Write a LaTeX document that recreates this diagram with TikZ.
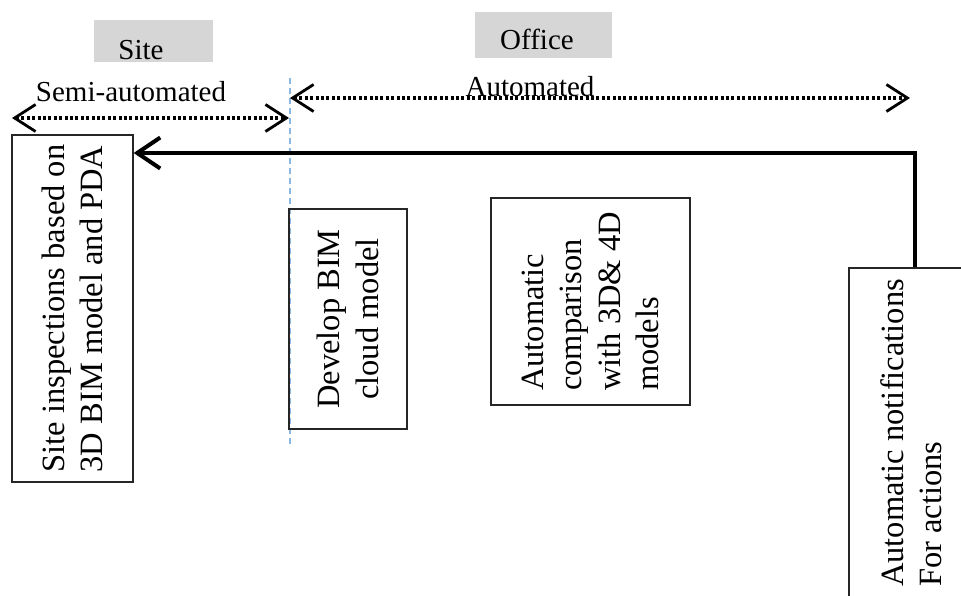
\documentclass[tikz,border=0pt]{standalone}
\usepackage{fontspec}
\setmainfont{Liberation Serif}
\usetikzlibrary{arrows.meta}
\definecolor{dividerblue}{RGB}{140,182,228}
\begin{document}
\begin{tikzpicture}[x=1pt,y=-1pt,
  boxtext/.style={font=\fontsize{32.5}{38.5}\selectfont},
  labeltext/.style={font=\fontsize{29}{34}\selectfont, inner sep=0pt},
  stepbox/.style={draw=black!85, line width=1.3pt, inner sep=0pt, rotate=90, boxtext},
  zonetag/.style={fill=black!16, inner sep=0pt},
  spanarrow/.style={line width=3.2pt, dash pattern=on 3pt off 2.4pt,
    {Straight Barb[length=21pt, width=27pt, line width=2.8pt]}-{Straight Barb[length=21pt, width=27pt, line width=2.8pt]}},
  feedback/.style={line width=4.5pt, -{Straight Barb[length=23pt, width=31pt, line width=4pt]}},
  divider/.style={draw=dividerblue, line width=1.4pt, dash pattern=on 6pt off 4pt}
]
\useasboundingbox (0,0) rectangle (961,596);
\clip (0,0) rectangle (961,596);

% zone headers
\node[zonetag, minimum width=119pt, minimum height=42pt] (sitetag) at (153.5,41) {};
\node[labeltext, anchor=base] (sitename) at (141,60) {Site};
\node[zonetag, minimum width=137pt, minimum height=46pt] (officetag) at (543.5,35) {};
\node[labeltext, anchor=base] (officename) at (537,50) {Office};

% boundary between site and office
\coordinate (divtop) at (290,78);
\coordinate (divbot) at (290,445);
\draw[divider] (divtop) -- (divbot);

% automation spans
\coordinate (semiL) at (12,118);
\coordinate (semiR) at (289,118);
\draw[spanarrow] (semiL) -- (semiR);
\node[labeltext, anchor=base] (semilabel) at (131,102) {Semi-automated};

\coordinate (autoL) at (290,98);
\coordinate (autoR) at (910,98);
\draw[spanarrow] (autoL) -- (autoR);
\node[labeltext, anchor=base] (autolabel) at (530,97) {Automated};

% process steps
\node[stepbox, align=left, minimum width=347pt, minimum height=121pt] (site) at (72.5,308.5)
  {Site inspections based on\\3D BIM model and PDA};
\node[stepbox, align=center, minimum width=220pt, minimum height=118pt] (develop) at (348,319)
  {Develop BIM\\cloud model};
\node[stepbox, align=left, minimum width=207pt, minimum height=199pt] (compare) at (590.5,301.5)
  {Automatic\\comparison\\with 3D\& 4D\\models};
\node[stepbox, align=left, minimum width=330pt, minimum height=124pt] (notify) at (911,433)
  {Automatic notifications\\For actions};

% feedback loop back to the site
\coordinate (turn) at (915,153);
\draw[feedback] (notify.east -| turn) -- (turn) -- (site.south |- turn);
\end{tikzpicture}
\end{document}
